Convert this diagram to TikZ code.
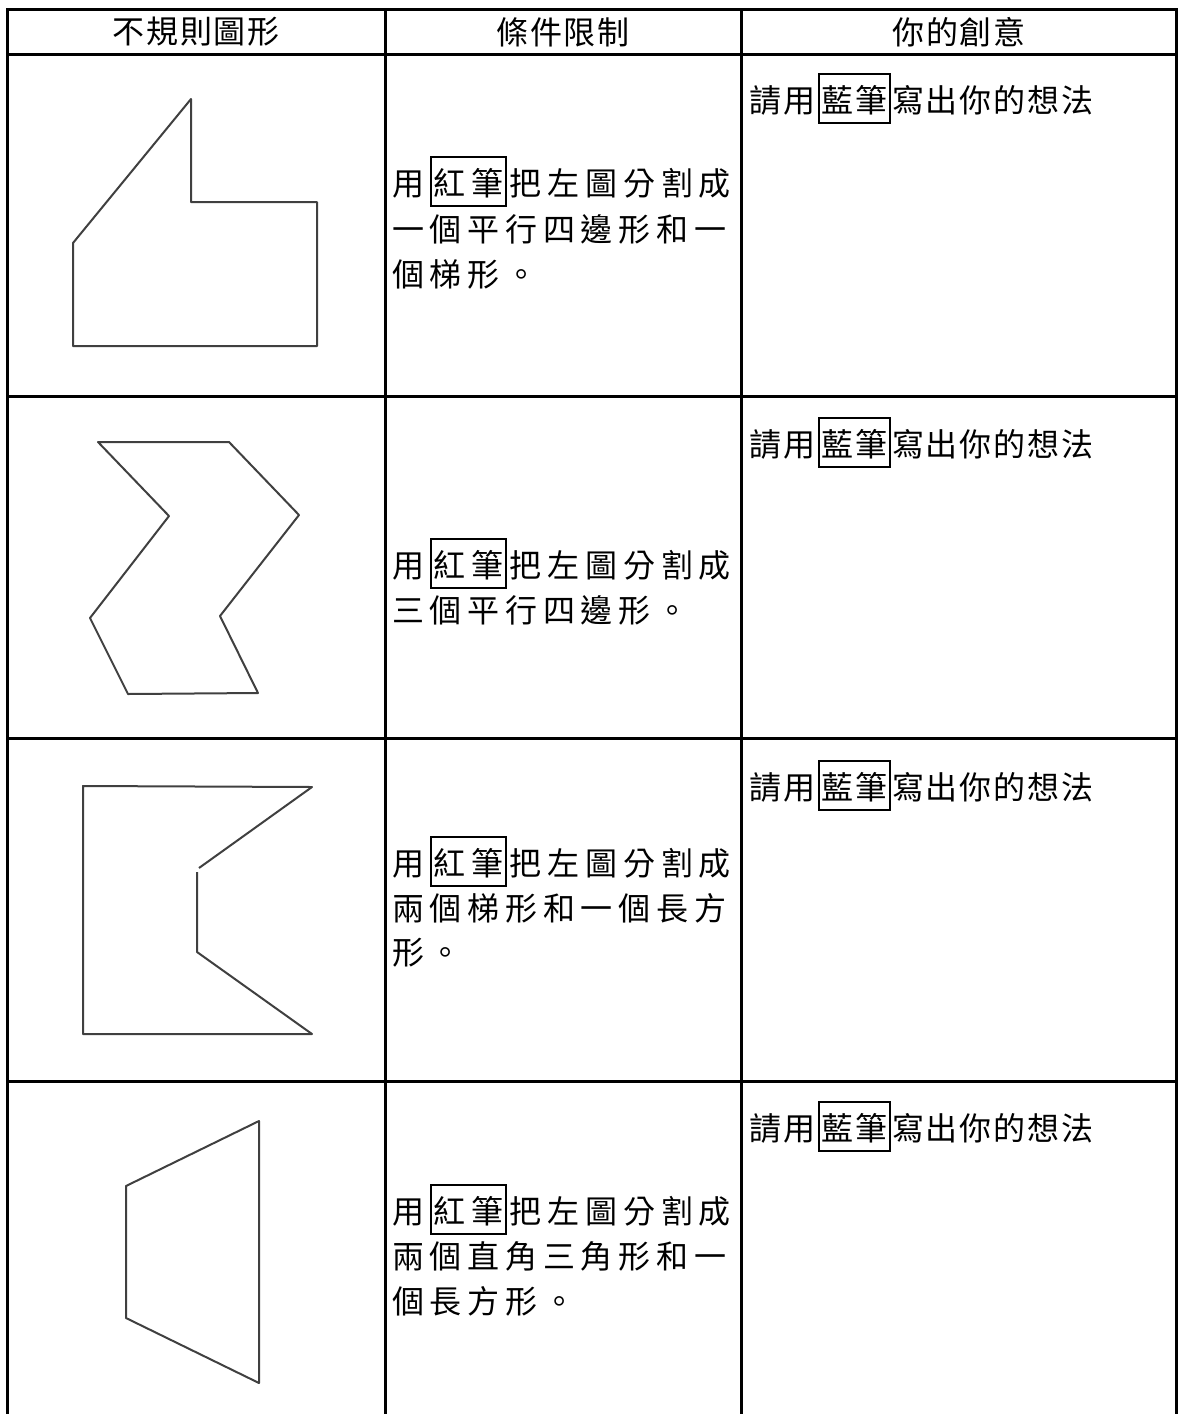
\documentclass[tikz,border=0pt]{standalone}
\usepackage{fontspec}
\setmainfont{Noto Sans CJK TC}
\newfontfamily\ideafont[LetterSpace=6]{Noto Sans CJK TC}
\newfontfamily\limitfont[LetterSpace=18]{Noto Sans CJK TC}
\newcommand{\penbox}[3]{\hspace{#1}{\setlength{\fboxsep}{0pt}\setlength{\fboxrule}{2pt}\fbox{\hspace{1.5pt}\rule[-0.3em]{0pt}{1.46em}#3\hspace{1.5pt}}}\hspace{#2}}
\tikzset{
  tableline/.style={line width=3pt, line join=miter},
  figline/.style={draw=black!75, line width=2pt, line join=round},
  head/.style={inner sep=0pt, font=\fontsize{32}{38}\ideafont},
  limit/.style={anchor=base west, inner sep=0pt, font=\fontsize{32}{38}\limitfont},
  idea/.style={anchor=base west, inner sep=0pt, font=\fontsize{32}{38}\ideafont}
}
\begin{document}
\begin{tikzpicture}[x=1pt, y=-1pt]
    \useasboundingbox (0,0) rectangle (1179,1414);

    \draw[tableline] (7,1414) -- (7,9) -- (1176,9) -- (1176,1414);
    \draw[tableline] (7,54) -- (1176,54); \draw[tableline] (7,396) -- (1176,396);
    \draw[tableline] (7,738) -- (1176,738); \draw[tableline] (7,1081) -- (1176,1081);
    \draw[tableline] (385,9) -- (385,1414); \draw[tableline] (741,9) -- (741,1414);

    \node[head] (h1) at (196,32) {不規則圖形};
    \node[head] (h2) at (563,32) {條件限制};
    \node[head] (h3) at (959,32) {你的創意};

    \draw[figline] (191,99) -- (191,202) -- (317,202) -- (317,346) -- (73,346) -- (73,243) -- cycle;
    \draw[figline] (98,442) -- (229,442) -- (299,515) -- (220,616) -- (258,693) -- (128,694) -- (90,618) -- (169,516) -- cycle;
    \draw[figline] (199,868) -- (312,787) -- (83,786) -- (83,1034) -- (312,1034) -- (197,952) -- (197,872);
    \draw[figline] (259,1121) -- (259,1383) -- (126,1318) -- (126,1186) -- cycle;

    \node[limit] (l1a) at (392,195) {用\penbox{6pt}{3pt}{紅筆}把左圖分割成};
    \node[limit] (l1b) at (392,241) {一個平行四邊形和一};
    \node[limit] (l1c) at (392,286) {個梯形。};

    \node[limit] (l2a) at (392,577) {用\penbox{6pt}{3pt}{紅筆}把左圖分割成};
    \node[limit] (l2b) at (392,622) {三個平行四邊形。};

    \node[limit] (l3a) at (392,875) {用\penbox{6pt}{3pt}{紅筆}把左圖分割成};
    \node[limit] (l3b) at (392,920) {兩個梯形和一個長方};
    \node[limit] (l3c) at (392,964) {形。};

    \node[limit] (l4a) at (392,1223) {用\penbox{6pt}{3pt}{紅筆}把左圖分割成};
    \node[limit] (l4b) at (392,1268) {兩個直角三角形和一};
    \node[limit] (l4c) at (392,1313) {個長方形。};

    \node[idea] (i1) at (749,112) {請用\penbox{3pt}{1pt}{藍筆}寫出你的想法};
    \node[idea] (i2) at (749,456) {請用\penbox{3pt}{1pt}{藍筆}寫出你的想法};
    \node[idea] (i3) at (749,799) {請用\penbox{3pt}{1pt}{藍筆}寫出你的想法};
    \node[idea] (i4) at (749,1140) {請用\penbox{3pt}{1pt}{藍筆}寫出你的想法};
\end{tikzpicture}
\end{document}
